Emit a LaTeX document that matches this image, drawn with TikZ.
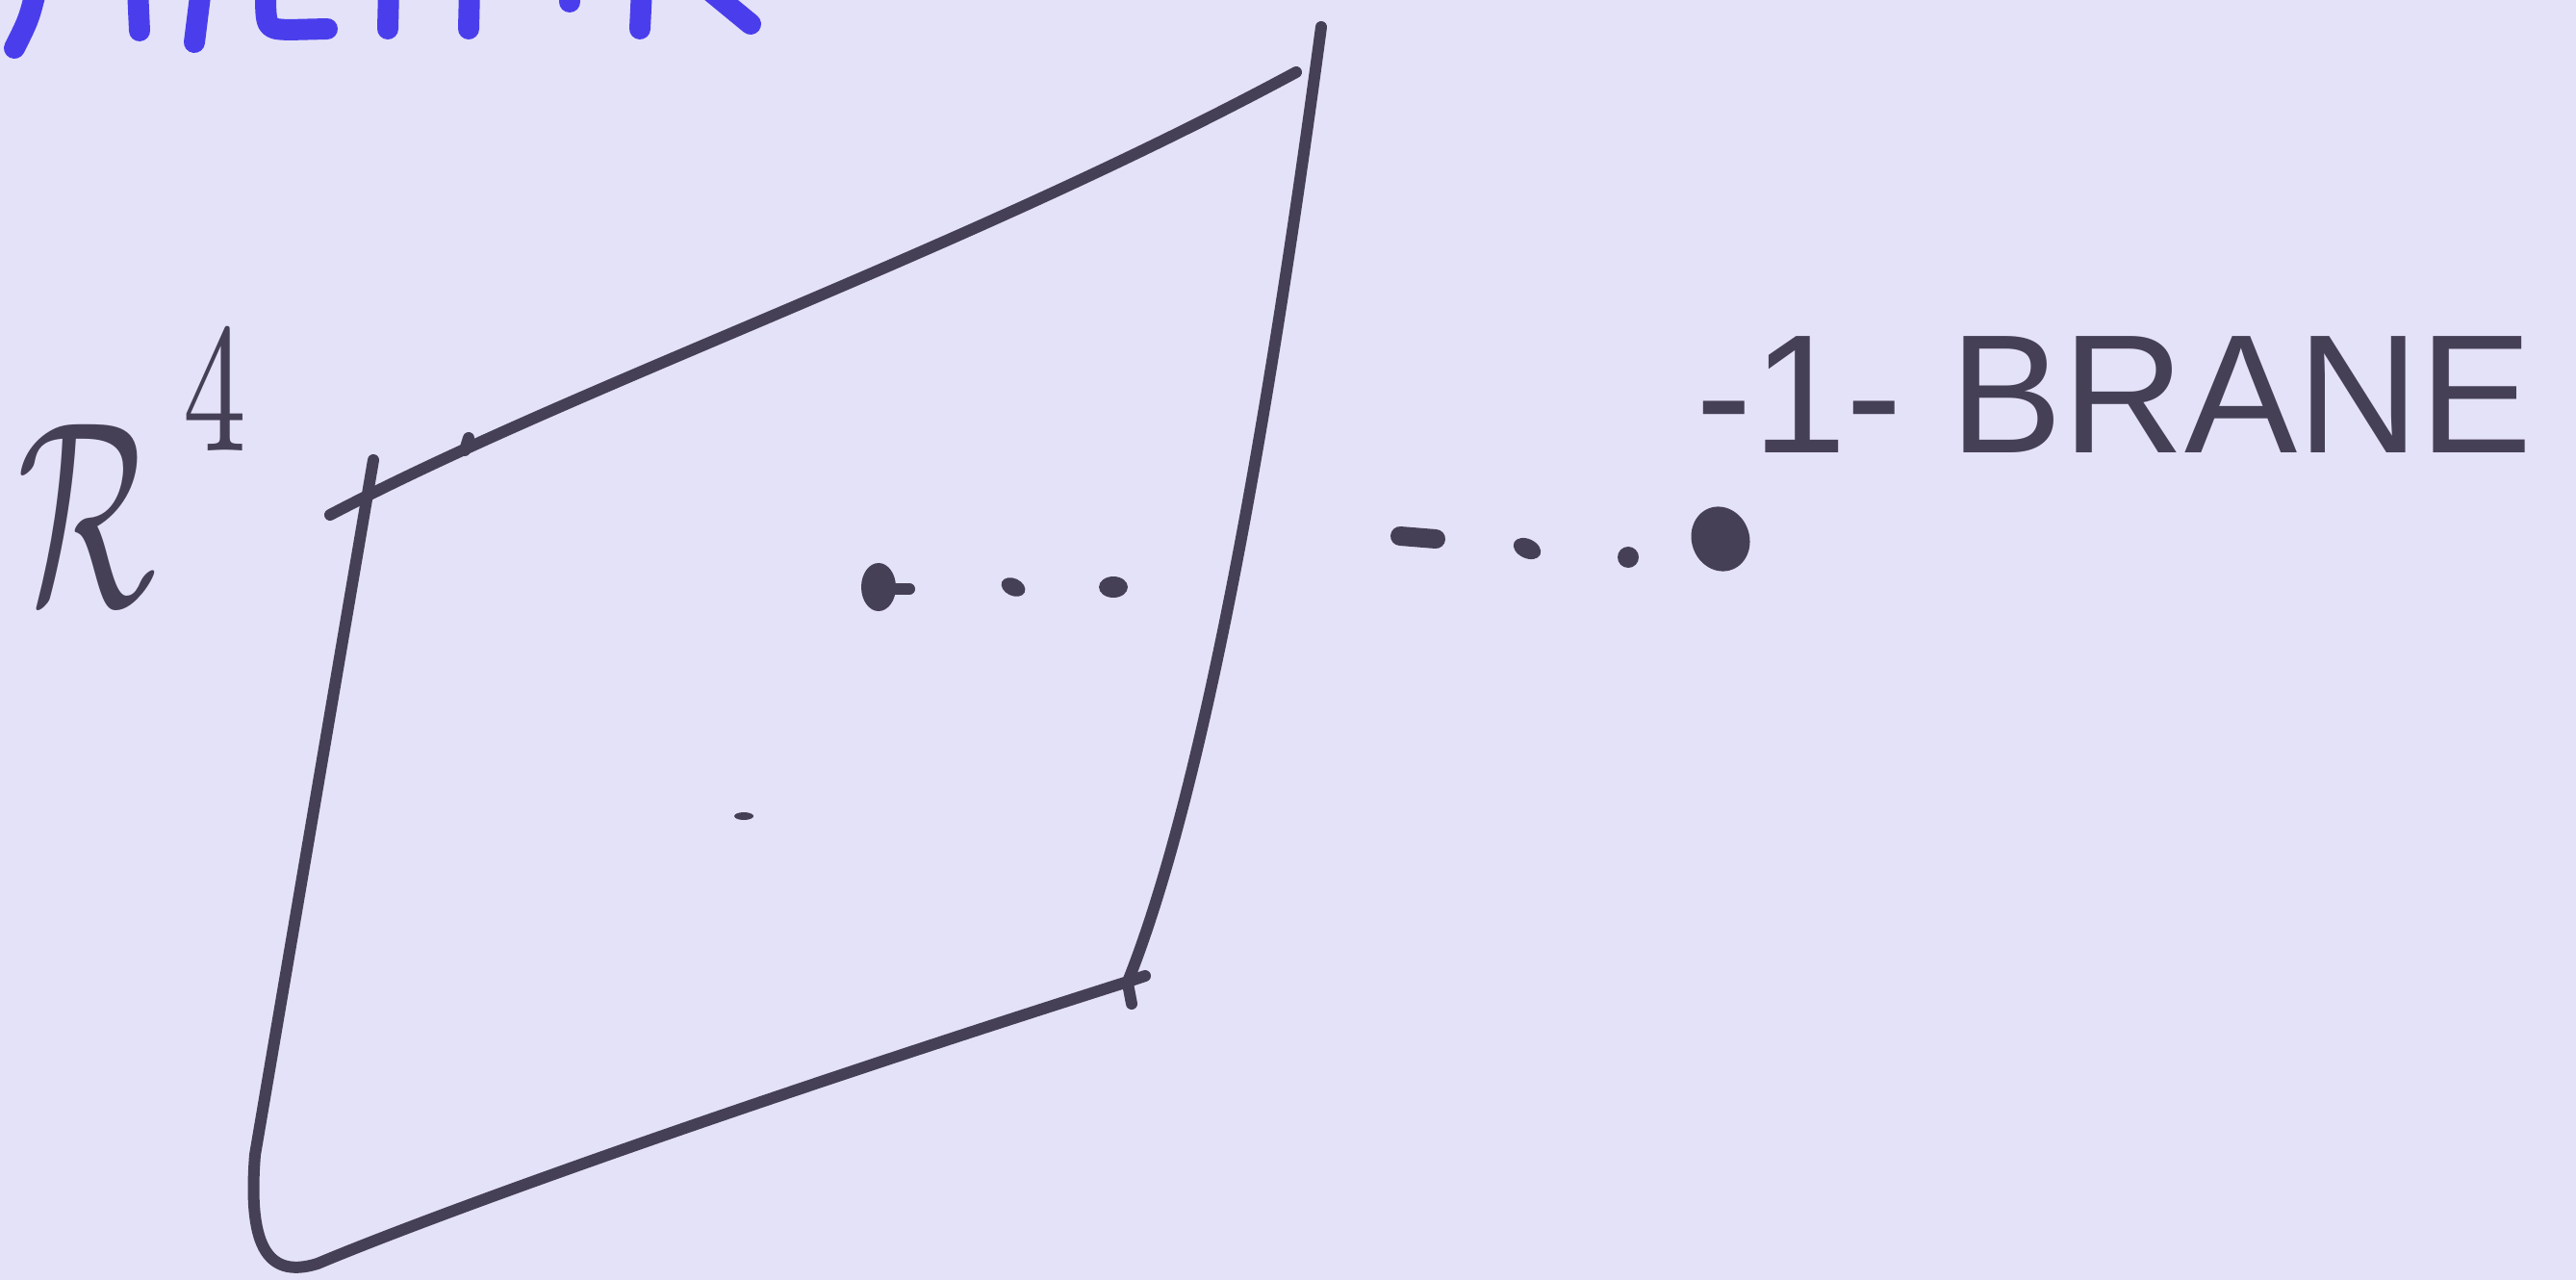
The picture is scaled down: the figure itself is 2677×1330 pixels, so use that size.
\documentclass[tikz,border=0pt]{standalone}
\usepackage{amsmath}
\usepackage{fontspec}
\newfontfamily\labelfont{Liberation Sans}
\definecolor{paper}{RGB}{228,226,248}
\definecolor{ink}{RGB}{70,64,86}
\definecolor{blueink}{RGB}{74,62,236}
\tikzset{pen/.style={ink,line width=1.2mm,line cap=round,line join=round},
  marker/.style={blueink,line width=2.2mm,line cap=round,line join=round}}
\begin{document}
\begin{tikzpicture}[x=.1mm,y=-.1mm]
\useasboundingbox (0,0) rectangle (2677,1330);
\fill[paper] (0,0) rectangle (2677,1330);
\draw[marker] (38,-12) .. controls (30,20) .. (15,50);
\draw[marker] (143,-12)--(145,32);\draw[marker] (209,-12)--(202,44);
\draw[marker] (276,-12) .. controls (276,30) .. (300,31) -- (340,30);
\draw[marker] (404,-12)--(403,30);\draw[marker] (488,-12)--(487,30);
\draw[marker] (592,-12)--(592,2);\draw[marker] (667,-12)--(665,30);
\draw[marker] (735,-12)--(780,25);
\draw[pen] (343,535) .. controls (600,400) and (1000,262) .. (1347,75);
\draw[pen] (1373,28) .. controls (1330,350) and (1260,800) .. (1172,1020);
\draw[pen] (1172,1020) .. controls (700,1170) and (420,1275) .. (330,1313) .. controls (275,1330) and (258,1290) .. (265,1200) -- (388,478);
\draw[pen] (1172,1020)--(1190,1014);\draw[pen] (1172,1022)--(1176,1043);
\draw[pen] (487,455)--(483,468);
\fill[ink] (913,610) ellipse (1.8mm and 2.5mm);\draw[pen] (915,612)--(945,612);
\fill[ink,rotate around={-25:(1053,610)}] (1053,610) ellipse (1.3mm and .9mm);
\fill[ink] (1157,610) ellipse (1.5mm and 1.1mm);
\fill[ink] (773,848) ellipse (1mm and .4mm);
\draw[pen,line width=2mm] (1455,557)--(1492,560);
\fill[ink,rotate around={-25:(1587,570)}] (1587,570) ellipse (1.5mm and 1mm);
\fill[ink] (1692,579) circle (1.1mm);
\fill[ink,rotate around={20:(1788,560)}] (1788,560) ellipse (3mm and 3.4mm);
\node[anchor=base west,inner sep=0,text=ink,scale=7.8,xscale=.62] (rfour) at (15,628) {$\mathcal{R}^{\raisebox{2.2pt}{$\scriptstyle\hspace{1.6pt}4$}}$};
\node[anchor=base west,inner sep=0,text=ink] (brane) at (1762,470) {\labelfont\fontsize{50}{50}\selectfont -1- BRANE};
\end{tikzpicture}
\end{document}
